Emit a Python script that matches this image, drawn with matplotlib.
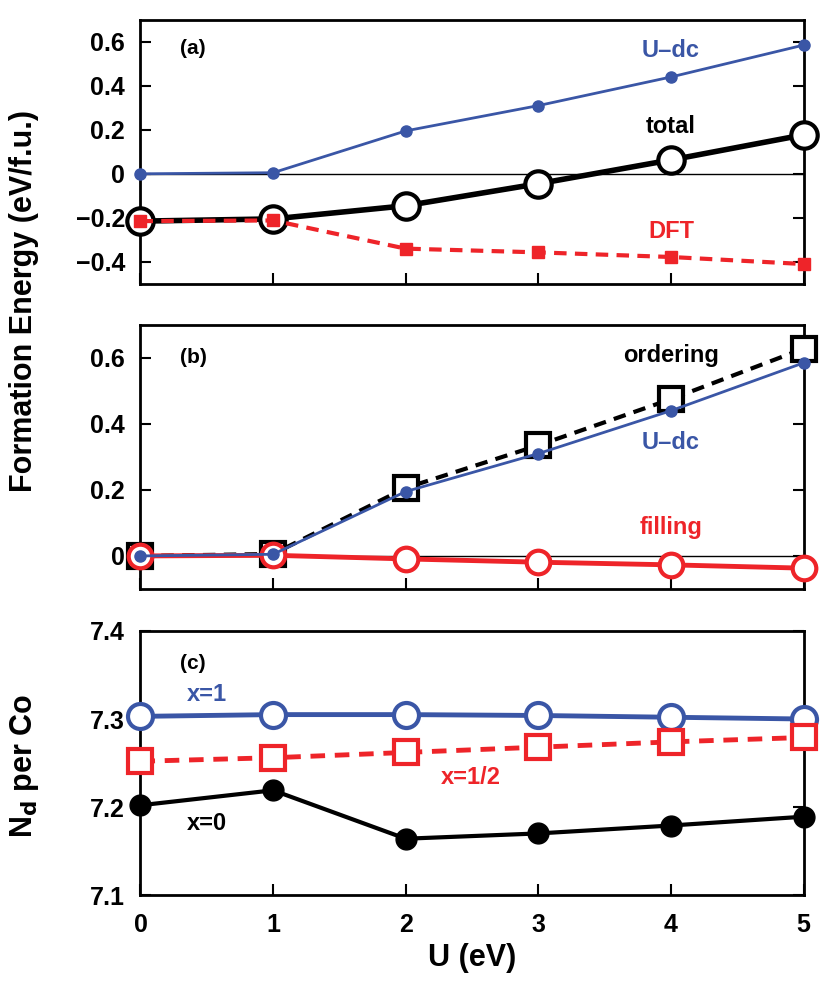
import matplotlib
matplotlib.use("Agg")
import matplotlib.pyplot as plt

plt.rcParams["font.family"] = ["Liberation Sans", "DejaVu Sans"]
plt.rcParams["font.weight"] = "bold"
plt.rcParams["axes.labelweight"] = "bold"

BLUE = "#3A56A6"
RED = "#EE2429"

U = [0, 1, 2, 3, 4, 5]

# (a) formation energy contributions
udc = [0.0, 0.005, 0.195, 0.31, 0.44, 0.585]
total = [-0.215, -0.205, -0.145, -0.045, 0.063, 0.177]
dft = [-0.215, -0.212, -0.34, -0.357, -0.378, -0.41]

# (b) ordering / filling decomposition
ordering = [0.0, 0.006, 0.206, 0.335, 0.475, 0.628]
filling = [0.0, 0.002, -0.009, -0.019, -0.027, -0.037]

# (c) N_d per Co
nd_x1 = [7.303, 7.305, 7.305, 7.304, 7.302, 7.300]
nd_xhalf = [7.252, 7.256, 7.262, 7.268, 7.274, 7.279]
nd_x0 = [7.202, 7.219, 7.164, 7.170, 7.179, 7.189]

fig = plt.figure(figsize=(8.31, 9.89), dpi=100)
L, W, H = 0.169, 0.798, 0.267
ax_a = fig.add_axes([L, 0.713, W, H])
ax_b = fig.add_axes([L, 0.4045, W, H])
ax_c = fig.add_axes([L, 0.095, W, H])

for ax in (ax_a, ax_b, ax_c):
    ax.set_xlim(0, 5)
    ax.set_xticks(U)
    ax.tick_params(direction="in", length=8, width=1.5, left=True, right=True,
                   top=False, bottom=True, labelsize=18)
    ax.tick_params(axis="y", pad=11)
    ax.tick_params(axis="x", pad=13)
    for s in ax.spines.values():
        s.set_linewidth(2)

LBL = 17

# ── (a) ────────────────────────────────────────────────────────
ax_a.axhline(0, color="black", lw=1, zorder=1)
ax_a.plot(U, udc, color=BLUE, lw=2, marker="o", ms=8, clip_on=False, zorder=3)
ax_a.plot(U, total, color="black", lw=4, marker="o", ms=19, mfc="white",
          mew=3, clip_on=False, zorder=4)
ax_a.plot(U, dft, color=RED, lw=3, ls=(0, (3, 2)), marker="s", ms=8,
          clip_on=False, zorder=5)
ax_a.set_ylim(-0.5, 0.7)
ax_a.set_yticks([-0.4, -0.2, 0, 0.2, 0.4, 0.6])
ax_a.set_yticklabels(["\u22120.4", "\u22120.2", "0", "0.2", "0.4", "0.6"])
ax_a.set_xticklabels([])
ax_a.text(0.3, 0.57, "(a)", fontsize=15, va="center")
ax_a.text(4, 0.56, "U\u2013dc", color=BLUE, fontsize=LBL, ha="center", va="center")
ax_a.text(4, 0.214, "total", color="black", fontsize=LBL, ha="center", va="center")
ax_a.text(4, -0.263, "DFT", color=RED, fontsize=LBL, ha="center", va="center")

# ── (b) ────────────────────────────────────────────────────────
ax_b.axhline(0, color="black", lw=1, zorder=1)
ax_b.plot(U, ordering, color="black", lw=3, ls=(0, (3, 2)), marker="s", ms=17,
          mfc="white", mew=3, clip_on=False, zorder=3)
ax_b.plot(U, filling, color=RED, lw=3.5, marker="o", ms=17, mfc="white",
          mew=3, clip_on=False, zorder=4)
ax_b.plot(U, udc, color=BLUE, lw=2, marker="o", ms=8, clip_on=False, zorder=5)
ax_b.set_ylim(-0.1, 0.7)
ax_b.set_yticks([0, 0.2, 0.4, 0.6])
ax_b.set_yticklabels(["0", "0.2", "0.4", "0.6"])
ax_b.set_xticklabels([])
ax_b.text(0.3, 0.6, "(b)", fontsize=15, va="center")
ax_b.text(4, 0.607, "ordering", color="black", fontsize=LBL, ha="center", va="center")
ax_b.text(4, 0.345, "U\u2013dc", color=BLUE, fontsize=LBL, ha="center", va="center")
ax_b.text(4, 0.087, "filling", color=RED, fontsize=LBL, ha="center", va="center")

# ── (c) ────────────────────────────────────────────────────────
ax_c.plot(U, nd_x1, color=BLUE, lw=3.5, marker="o", ms=18, mfc="white",
          mew=3, clip_on=False, zorder=3)
ax_c.plot(U, nd_xhalf, color=RED, lw=3.5, ls=(0, (3, 2)), marker="s", ms=17,
          mfc="white", mew=3, clip_on=False, zorder=3)
ax_c.plot(U, nd_x0, color="black", lw=3, marker="o", ms=15, clip_on=False, zorder=3)
ax_c.set_ylim(7.1, 7.4)
ax_c.set_yticks([7.1, 7.2, 7.3, 7.4])
ax_c.set_yticklabels(["7.1", "7.2", "7.3", "7.4"])
ax_c.text(0.3, 7.363, "(c)", fontsize=15, va="center")
ax_c.text(0.5, 7.328, "x=1", color=BLUE, fontsize=LBL, ha="center", va="center")
ax_c.text(2.49, 7.233, "x=1/2", color=RED, fontsize=LBL, ha="center", va="center")
ax_c.text(0.5, 7.181, "x=0", color="black", fontsize=LBL, ha="center", va="center")
ax_c.set_xlabel("U (eV)", fontsize=22, labelpad=4)

fig.text(0.029, 0.226, "N$_\\mathbf{d}$ per Co", rotation=90, fontsize=22,
         ha="center", va="center")
fig.text(0.029, 0.696, "Formation Energy (eV/f.u.)", rotation=90, fontsize=22,
         ha="center", va="center")

fig.savefig("out.png", dpi=100)
